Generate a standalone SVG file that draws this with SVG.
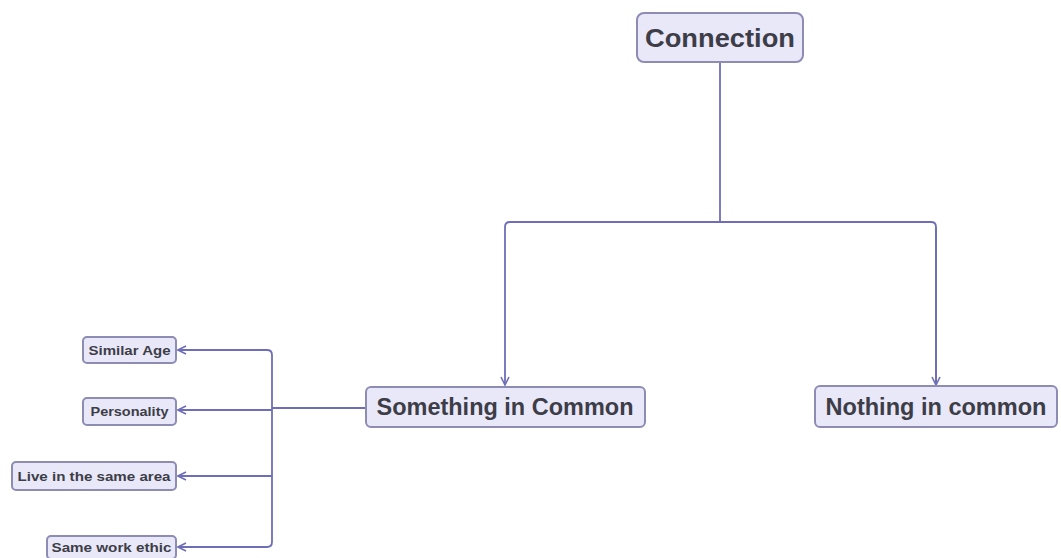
<svg xmlns="http://www.w3.org/2000/svg" width="1061" height="558" viewBox="0 0 1061 558">
<defs>
<style>
.box{fill:#e8e8f8;stroke:#8c8cb4;stroke-width:2}
.t{font-family:"Liberation Sans",Arial,sans-serif;font-weight:bold;fill:#3d3d48;text-anchor:middle}
.c{fill:none;stroke:#6e6eb8;stroke-width:1.8}
</style>
<marker id="ar" viewBox="0 0 10 10" refX="9" refY="5" markerWidth="10" markerHeight="10" orient="auto" markerUnits="userSpaceOnUse">
<path d="M1,1 L9,5 L1,9" fill="none" stroke="#6e6eb8" stroke-width="1.6"/>
</marker>
</defs>
<rect width="1061" height="558" fill="#ffffff"/>
<g id="connectors">
<path class="c" d="M720,62 V222"/>
<path class="c" d="M936,385 V227 Q936,222 931,222 H510 Q505,222 505,227 V385" marker-end="url(#ar)"/>
<path class="c" d="M936,228 V385" marker-end="url(#ar)"/>
<path class="c" d="M366,408 H272"/>
<path class="c" d="M178,350 H267 Q272,350 272,355 V542 Q272,547 267,547 H178"/>
<path class="c" d="M200,350 H178" marker-end="url(#ar)"/>
<path class="c" d="M272,410 H178" marker-end="url(#ar)"/>
<path class="c" d="M272,476 H178" marker-end="url(#ar)"/>
<path class="c" d="M200,547 H178" marker-end="url(#ar)"/>
</g>
<g id="connection">
<rect class="box" x="637" y="13" width="166" height="49" rx="7"/>
<text class="t" x="720" y="47" font-size="26" textLength="150" lengthAdjust="spacingAndGlyphs">Connection</text>
</g>
<g id="something">
<rect class="box" x="366" y="387" width="279" height="40" rx="5"/>
<text class="t" x="505" y="415" font-size="23" textLength="257" lengthAdjust="spacingAndGlyphs">Something in Common</text>
</g>
<g id="nothing">
<rect class="box" x="815" y="386" width="242" height="41" rx="5"/>
<text class="t" x="936" y="415" font-size="23" textLength="221" lengthAdjust="spacingAndGlyphs">Nothing in common</text>
</g>
<g id="similar-age">
<rect class="box" x="83" y="337" width="93" height="26" rx="4" stroke-width="1.5"/>
<text class="t" x="129.5" y="355" font-size="13" textLength="82" lengthAdjust="spacingAndGlyphs">Similar Age</text>
</g>
<g id="personality">
<rect class="box" x="83" y="398" width="93" height="27" rx="4" stroke-width="1.5"/>
<text class="t" x="129.5" y="416" font-size="13" textLength="78" lengthAdjust="spacingAndGlyphs">Personality</text>
</g>
<g id="live-same-area">
<rect class="box" x="12" y="462" width="164" height="28" rx="4" stroke-width="1.5"/>
<text class="t" x="94" y="481" font-size="13" textLength="153" lengthAdjust="spacingAndGlyphs">Live in the same area</text>
</g>
<g id="same-work-ethic">
<rect class="box" x="47" y="536" width="129" height="23" rx="4" stroke-width="1.5"/>
<text class="t" x="111.5" y="552" font-size="13" textLength="120" lengthAdjust="spacingAndGlyphs">Same work ethic</text>
</g>
</svg>
